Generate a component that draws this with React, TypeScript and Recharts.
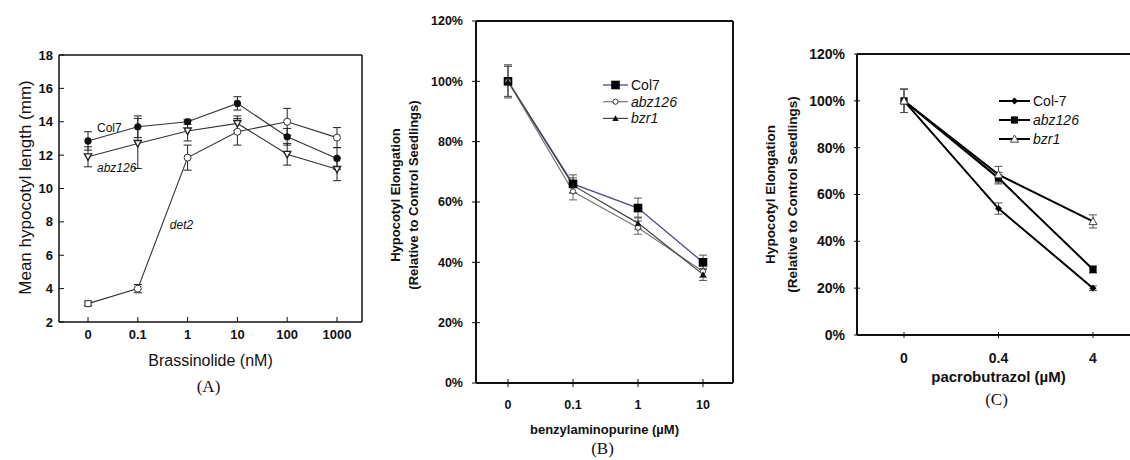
import React from "react";
import { ErrorBar, LabelList, Label, Legend, Line, LineChart, XAxis, YAxis } from "recharts";

const SANS = '"Liberation Sans", Arial, Helvetica, sans-serif';
const SERIF = '"Liberation Serif", "Times New Roman", serif';

// (A) brassinolide dose response, mm
const brassinolide = ["0", "0.1", "1", "10", "100", "1000"];
const col7A = [12.85, 13.7, 14.0, 15.1, 13.1, 11.8];
const col7AErr = [0.55, 0.65, 0.15, 0.4, 0.5, 0.65];
const abz126A = [11.9, 12.7, 13.45, 13.9, 12.05, 11.15];
const abz126AErr = [0.6, 1.5, 0.6, 0.45, 0.65, 0.68];
const det2A = [3.1, 4.0, 11.85, 13.4, 14.0, 13.05];
const det2AErr = [0.1, 0.25, 0.75, 0.8, 0.8, 0.6];
const ticksA = [2, 4, 6, 8, 10, 12, 14, 16, 18];

// (B) benzylaminopurine, % of control
const bap = ["0", "0.1", "1", "10"];
const col7B = [100, 66, 58, 40];
const col7BErr = [5.5, 3, 3.3, 2.4];
const abz126B = [100, 63.5, 51.5, 37];
const abz126BErr = [5, 2.8, 2.2, 2];
const bzr1B = [100, 65.5, 53, 36];
const bzr1BErr = [5, 2.5, 2, 2];

// (C) pacrobutrazol, % of control
const pac = ["0", "0.4", "4"];
const col7C = [100, 54, 20];
const col7CErr = [5, 2.4, 1];
const abz126C = [100, 67, 28];
const abz126CErr = [5, 2.5, 1.5];
const bzr1C = [100, 68.5, 48.5];
const bzr1CErr = [5, 3.5, 2.8];
const pctTicks = [0, 20, 40, 60, 80, 100, 120];

const tableA = brassinolide.map((dose, i) => ({
  dose,
  col7: col7A[i], col7Err: col7AErr[i],
  abz126: abz126A[i], abz126Err: abz126AErr[i],
  det2: det2A[i], det2Err: det2AErr[i],
}));
const tableB = bap.map((dose, i) => ({
  dose,
  col7: col7B[i], col7Err: col7BErr[i],
  abz126: abz126B[i], abz126Err: abz126BErr[i],
  bzr1: bzr1B[i], bzr1Err: bzr1BErr[i],
}));
const tableC = pac.map((dose, i) => ({
  dose,
  col7: col7C[i], col7Err: col7CErr[i],
  abz126: abz126C[i], abz126Err: abz126CErr[i],
  bzr1: bzr1C[i], bzr1Err: bzr1CErr[i],
}));

type Kind = "dot" | "ring" | "vee" | "box" | "obox" | "diamond" | "tri" | "otri";

function Marker({ kind, x, y, s }: { kind: Kind; x: number; y: number; s: number }) {
  switch (kind) {
    case "dot":
      return <circle cx={x} cy={y} r={s} fill="#111" />;
    case "ring":
      return <circle cx={x} cy={y} r={s} fill="#fff" stroke="#333" strokeWidth={1} />;
    case "vee":
      return (
        <polygon
          points={`${x - s},${y - s * 0.8} ${x + s},${y - s * 0.8} ${x},${y + s}`}
          fill="#fff" stroke="#222" strokeWidth={1.4}
        />
      );
    case "box":
      return <rect x={x - s} y={y - s} width={2 * s} height={2 * s} fill="#000" />;
    case "obox":
      return <rect x={x - s} y={y - s} width={2 * s} height={2 * s} fill="#fff" stroke="#333" strokeWidth={1} />;
    case "diamond":
      return <polygon points={`${x},${y - s} ${x + s},${y} ${x},${y + s} ${x - s},${y}`} fill="#000" />;
    case "tri":
      return <polygon points={`${x},${y - s} ${x + s},${y + s * 0.8} ${x - s},${y + s * 0.8}`} fill="#111" />;
    default:
      return (
        <polygon
          points={`${x},${y - s} ${x + s},${y + s * 0.8} ${x - s},${y + s * 0.8}`}
          fill="#fff" stroke="#444" strokeWidth={1}
        />
      );
  }
}

const dotOf = (kind: Kind, s: number) => (p: any) => (
  <Marker key={`m${p.index}`} kind={kind} x={p.cx} y={p.cy} s={s} />
);

// det2 at 0 nM is plotted as a small square in the figure
const det2Dot = (p: any) => (
  <Marker key={`m${p.index}`} kind={p.index === 0 ? "obox" : "ring"} x={p.cx} y={p.cy} s={p.index === 0 ? 3 : 3.5} />
);

const seriesNote = (at: number, text: string, dx: number, dy: number, italic: boolean) => (p: any) =>
  p.index === at ? (
    <text key="note" x={p.x + dx} y={p.y + dy} fontFamily={SANS} fontSize={12} fontStyle={italic ? "italic" : "normal"} fill="#111">
      {text}
    </text>
  ) : null;

const xTitle = (title: string, caption: string, dyTitle: number, dyCap: number, size: number, bold: boolean) =>
  ({ viewBox }: any) => {
    const cx = viewBox.x + viewBox.width / 2;
    return (
      <g>
        <text x={cx} y={viewBox.y + dyTitle} dy="0.35em" textAnchor="middle" fontFamily={SANS} fontSize={size} fontWeight={bold ? "bold" : "normal"} fill="#111">
          {title}
        </text>
        <text x={cx - 2} y={viewBox.y + dyCap} dy="0.35em" textAnchor="middle" fontFamily={SERIF} fontSize={17} fill="#111">
          {caption}
        </text>
      </g>
    );
  };

const yTitle = (lines: string[], xs: number[], shift: number, size: number, bold: boolean) =>
  ({ viewBox }: any) => {
    const cy = viewBox.y + viewBox.height / 2 + shift;
    return (
      <g>
        {lines.map((ln, i) => (
          <text
            key={ln}
            x={viewBox.x + xs[i]}
            y={cy}
            dy="0.35em"
            transform={`rotate(-90 ${viewBox.x + xs[i]} ${cy})`}
            textAnchor="middle"
            fontFamily={SANS}
            fontSize={size}
            fontWeight={bold ? "bold" : "normal"}
            fill="#111"
          >
            {ln}
          </text>
        ))}
      </g>
    );
  };

type LegendRow = { kind: Kind; s: number; color: string; width: number; italic: boolean };

const legendBox = (rows: Record<string, LegendRow>, gap: number, lineLen: number, size: number) =>
  ({ payload }: any) => (
    <svg width={140} height={gap * 3 + 6} style={{ overflow: "visible" }}>
      {(payload || [])
        .filter((entry: any) => rows[entry.value])
        .map((entry: any, i: number) => {
          const row = rows[entry.value];
          const y = 9 + i * gap;
          return (
            <g key={entry.value}>
              <line x1={3} x2={3 + lineLen} y1={y} y2={y} stroke={row.color} strokeWidth={row.width} />
              <Marker kind={row.kind} x={3 + lineLen / 2} y={y} s={row.s} />
              <text x={lineLen + 6} y={y} dy="0.35em" fontFamily={SANS} fontSize={size} fontStyle={row.italic ? "italic" : "normal"} fill="#111">
                {entry.value}
              </text>
            </g>
          );
        })}
    </svg>
  );

function PanelA() {
  const frame = { stroke: "#111", strokeWidth: 1.5 };
  const pad = { left: 29, right: 25 };
  return (
    <LineChart width={380} height={400} data={tableA} margin={{ top: 54, right: 17, bottom: 48, left: 0 }}>
      <XAxis
        dataKey="dose" interval={0} height={30} padding={pad}
        axisLine={frame} tickSize={5} tickMargin={3}
        tickLine={{ stroke: "#111", transform: "translate(0,-5)" }}
        tick={{ fill: "#111", fontSize: 13, fontWeight: "bold", fontFamily: SANS }}
      >
        <Label content={xTitle("Brassinolide (nM)", "(A)", 38, 64, 16, false)} />
      </XAxis>
      <XAxis xAxisId="top" orientation="top" dataKey="dose" height={1} padding={pad} axisLine={frame} tick={false} tickLine={false} />
      <YAxis
        type="number" domain={[2, 18]} ticks={ticksA} width={59} interval={0}
        axisLine={frame} tickSize={5} tickMargin={1}
        tickLine={{ stroke: "#111", transform: "translate(5,0)" }}
        tick={{ fill: "#111", fontSize: 13, fontWeight: "bold", fontFamily: SANS }}
      >
        <Label content={yTitle(["Mean hypocotyl length (mm)"], [25], -1, 17, false)} />
      </YAxis>
      <YAxis
        yAxisId="right" orientation="right" type="number" domain={[2, 18]} ticks={ticksA} interval={0}
        width={1} tick={false} tickSize={5} axisLine={frame}
        tickLine={{ stroke: "#111", transform: "translate(-5,0)" }}
      />
      {/* carries the top and right frame axes, draws nothing */}
      <Line xAxisId="top" yAxisId="right" dataKey="col7" stroke="none" dot={false} activeDot={false} legendType="none" isAnimationActive={false} />
      <Line dataKey="det2" stroke="#333" strokeWidth={1.1} dot={det2Dot} activeDot={false} isAnimationActive={false}>
        <ErrorBar dataKey="det2Err" width={4} stroke="#222" strokeWidth={1} direction="y" />
        <LabelList dataKey="det2" content={seriesNote(1, "det2", 32, -60, true)} />
      </Line>
      <Line dataKey="abz126" stroke="#333" strokeWidth={1.1} dot={dotOf("vee", 3.6)} activeDot={false} isAnimationActive={false}>
        <ErrorBar dataKey="abz126Err" width={4} stroke="#222" strokeWidth={1} direction="y" />
        <LabelList dataKey="abz126" content={seriesNote(0, "abz126", 9, 15, true)} />
      </Line>
      <Line dataKey="col7" stroke="#333" strokeWidth={1.1} dot={dotOf("dot", 3.6)} activeDot={false} isAnimationActive={false}>
        <ErrorBar dataKey="col7Err" width={4} stroke="#222" strokeWidth={1} direction="y" />
        <LabelList dataKey="col7" content={seriesNote(0, "Col7", 9, -9, false)} />
      </Line>
    </LineChart>
  );
}

const rowsB: Record<string, LegendRow> = {
  Col7: { kind: "box", s: 4.3, color: "#4a4a88", width: 1.3, italic: false },
  abz126: { kind: "ring", s: 2.6, color: "#777", width: 1.2, italic: true },
  bzr1: { kind: "tri", s: 3.2, color: "#444", width: 1.2, italic: true },
};

function PanelB() {
  const frame = { stroke: "#111", strokeWidth: 2 };
  const pad = { left: 32, right: 30 };
  const tickFont = { fill: "#111", fontSize: 12.5, fontWeight: "bold", fontFamily: SANS };
  return (
    <LineChart width={360} height={460} data={tableB} margin={{ top: 20, right: 6, bottom: 47, left: 0 }}>
      <XAxis
        dataKey="dose" interval={0} height={30} padding={pad}
        axisLine={frame} tickSize={8} tickMargin={9}
        tickLine={{ stroke: "#111", transform: "translate(0,-4)" }} tick={tickFont}
      >
        <Label content={xTitle("benzylaminopurine (\u00b5M)", "(B)", 46, 65, 13, true)} />
      </XAxis>
      <XAxis xAxisId="top" orientation="top" dataKey="dose" height={1} padding={pad} axisLine={frame} tick={false} tickLine={false} />
      <YAxis
        type="number" domain={[0, 120]} ticks={pctTicks} width={96} interval={0}
        axisLine={frame} tickSize={8} tickMargin={5}
        tickLine={{ stroke: "#111", transform: "translate(4,0)" }}
        tick={tickFont} tickFormatter={(v) => `${v}%`}
      >
        <Label content={yTitle(["Hypocotyl Elongation", "(Relative to Control Seedlings)"], [15, 33], -7, 13, true)} />
      </YAxis>
      <YAxis yAxisId="right" orientation="right" type="number" domain={[0, 120]} width={1} tick={false} tickLine={false} axisLine={frame} />
      <Legend
        layout="vertical" align="center" verticalAlign="middle"
        wrapperStyle={{ top: 76, left: 220, width: 140 }}
        content={legendBox(rowsB, 16.7, 25, 14)}
      />
      <Line xAxisId="top" yAxisId="right" dataKey="col7" stroke="none" dot={false} activeDot={false} legendType="none" isAnimationActive={false} />
      <Line name="Col7" dataKey="col7" stroke="#4a4a88" strokeWidth={1.3} dot={dotOf("box", 4.3)} activeDot={false} isAnimationActive={false}>
        <ErrorBar dataKey="col7Err" width={4} stroke="#555" strokeWidth={1} direction="y" />
      </Line>
      <Line name="abz126" dataKey="abz126" stroke="#777" strokeWidth={1.2} dot={dotOf("ring", 2.6)} activeDot={false} isAnimationActive={false}>
        <ErrorBar dataKey="abz126Err" width={4} stroke="#666" strokeWidth={1} direction="y" />
      </Line>
      <Line name="bzr1" dataKey="bzr1" stroke="#444" strokeWidth={1.2} dot={dotOf("tri", 3.2)} activeDot={false} isAnimationActive={false}>
        <ErrorBar dataKey="bzr1Err" width={4} stroke="#555" strokeWidth={1} direction="y" />
      </Line>
    </LineChart>
  );
}

const rowsC: Record<string, LegendRow> = {
  "Col-7": { kind: "diamond", s: 3.5, color: "#000", width: 2, italic: false },
  abz126: { kind: "box", s: 3.6, color: "#000", width: 2, italic: true },
  bzr1: { kind: "otri", s: 4, color: "#000", width: 2, italic: true },
};

function PanelC() {
  const frame = { stroke: "#111", strokeWidth: 2 };
  const pad = { left: 47, right: 47 };
  const tickFont = { fill: "#111", fontSize: 14, fontWeight: "bold", fontFamily: SANS };
  return (
    <LineChart width={410} height={460} data={tableC} margin={{ top: 53, right: 10, bottom: 95, left: 0 }}>
      <XAxis
        dataKey="dose" interval={0} height={30} padding={pad}
        axisLine={frame} tickSize={6} tickMargin={12}
        tickLine={{ stroke: "#111", transform: "translate(0,-3)" }} tick={tickFont}
      >
        <Label content={xTitle("pacrobutrazol (\u00b5M)", "(C)", 42, 64, 15, true)} />
      </XAxis>
      <XAxis xAxisId="top" orientation="top" dataKey="dose" height={1} padding={pad} axisLine={frame} tick={false} tickLine={false} />
      <YAxis
        type="number" domain={[0, 120]} ticks={pctTicks} width={117} interval={0}
        axisLine={frame} tickSize={6} tickMargin={6}
        tickLine={{ stroke: "#111", transform: "translate(3,0)" }}
        tick={tickFont} tickFormatter={(v) => `${v}%`}
      >
        <Label content={yTitle(["Hypocotyl Elongation", "(Relative to Control Seedlings)"], [30, 52], 0, 13.5, true)} />
      </YAxis>
      <Legend
        layout="vertical" align="center" verticalAlign="middle"
        wrapperStyle={{ top: 92, left: 256, width: 140 }}
        content={legendBox(rowsC, 19, 31, 14)}
      />
      <Line xAxisId="top" dataKey="col7" stroke="none" dot={false} activeDot={false} legendType="none" isAnimationActive={false} />
      <Line name="Col-7" dataKey="col7" stroke="#000" strokeWidth={2} dot={dotOf("diamond", 3.5)} activeDot={false} isAnimationActive={false}>
        <ErrorBar dataKey="col7Err" width={4} stroke="#555" strokeWidth={1} direction="y" />
      </Line>
      <Line name="abz126" dataKey="abz126" stroke="#000" strokeWidth={2} dot={dotOf("box", 3.6)} activeDot={false} isAnimationActive={false}>
        <ErrorBar dataKey="abz126Err" width={4} stroke="#555" strokeWidth={1} direction="y" />
      </Line>
      <Line name="bzr1" dataKey="bzr1" stroke="#000" strokeWidth={2} dot={dotOf("otri", 4)} activeDot={false} isAnimationActive={false}>
        <ErrorBar dataKey="bzr1Err" width={4} stroke="#555" strokeWidth={1} direction="y" />
      </Line>
    </LineChart>
  );
}

export default function App() {
  return (
    <div style={{ position: "absolute", left: 0, top: 0, width: 1130, height: 460, overflow: "hidden", background: "#fff" }}>
      <div style={{ position: "absolute", left: 0, top: 0 }}>
        <PanelA />
      </div>
      <div style={{ position: "absolute", left: 380, top: 0 }}>
        <PanelB />
      </div>
      <div style={{ position: "absolute", left: 740, top: 0 }}>
        <PanelC />
      </div>
    </div>
  );
}
